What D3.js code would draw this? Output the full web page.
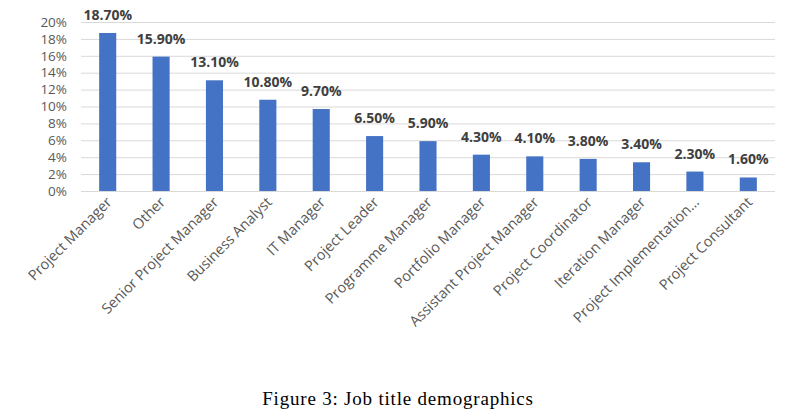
<!DOCTYPE html>
<html><head><meta charset="utf-8">
<script src="https://cdn.jsdelivr.net/npm/d3@7"></script>
<style>body{margin:0;background:#fff;}</style>
</head><body>
<svg id="c" width="807" height="417"></svg>
<script>
const categories = ["Project Manager","Other","Senior Project Manager","Business Analyst","IT Manager","Project Leader","Programme Manager","Portfolio Manager","Assistant Project Manager","Project Coordinator","Iteration Manager","Project Implementation…","Project Consultant"];
const values = [18.7,15.9,13.1,10.8,9.7,6.5,5.9,4.3,4.1,3.8,3.4,2.3,1.6];
const yTicks = [0,2,4,6,8,10,12,14,16,18,20];
const caption = "Figure 3: Job title demographics";

const svg = d3.select("#c");
const plotLeft = 81, plotRight = 775, plotTop = 22, plotBottom = 191;
const x = d3.scaleBand().domain(categories).range([plotLeft, plotRight]).paddingInner(0.68).paddingOuter(0.34);
const y = d3.scaleLinear().domain([0,20]).range([plotBottom, plotTop]);
const font = "'Open Sans', sans-serif";

svg.append("g").selectAll("line").data(yTicks).join("line")
  .attr("x1", plotLeft).attr("x2", plotRight)
  .attr("y1", d=>y(d)+0.5).attr("y2", d=>y(d)+0.5)
  .attr("stroke", "#d9d9d9").attr("stroke-width", 1);

svg.append("g").selectAll("text").data(yTicks).join("text")
  .attr("x", 67).attr("y", d=>y(d)).attr("dy","0.35em")
  .attr("text-anchor","end").attr("font-family",font).attr("font-size",13.5)
  .attr("fill","#595959").text(d=>d+"%");

svg.append("g").selectAll("rect").data(values).join("rect")
  .attr("x",(d,i)=>x(categories[i])).attr("width",x.bandwidth())
  .attr("y",d=>y(d)).attr("height",d=>plotBottom-y(d)).attr("fill","#4472C4");

svg.append("g").selectAll("text").data(values).join("text")
  .attr("x",(d,i)=>x(categories[i])+x.bandwidth()/2).attr("y",d=>y(d)-13)
  .attr("text-anchor","middle").attr("font-family",font).attr("font-size",14)
  .attr("font-weight","bold").attr("fill","#404040").text(d=>d.toFixed(2)+"%");

svg.append("g").selectAll("text").data(categories).join("text")
  .attr("transform",d=>`translate(${x(d)+x.bandwidth()/2+5},${plotBottom+12}) rotate(-45)`)
  .attr("text-anchor","end").attr("font-family",font).attr("font-size",14.5)
  .attr("fill","#595959").text(d=>d);

svg.append("text").attr("x",398).attr("y",405).attr("text-anchor","middle")
  .attr("font-family","'Liberation Serif', serif").attr("font-size",19)
  .attr("letter-spacing",0.8)
  .attr("fill","#000").text(caption);
</script>
</body></html>
